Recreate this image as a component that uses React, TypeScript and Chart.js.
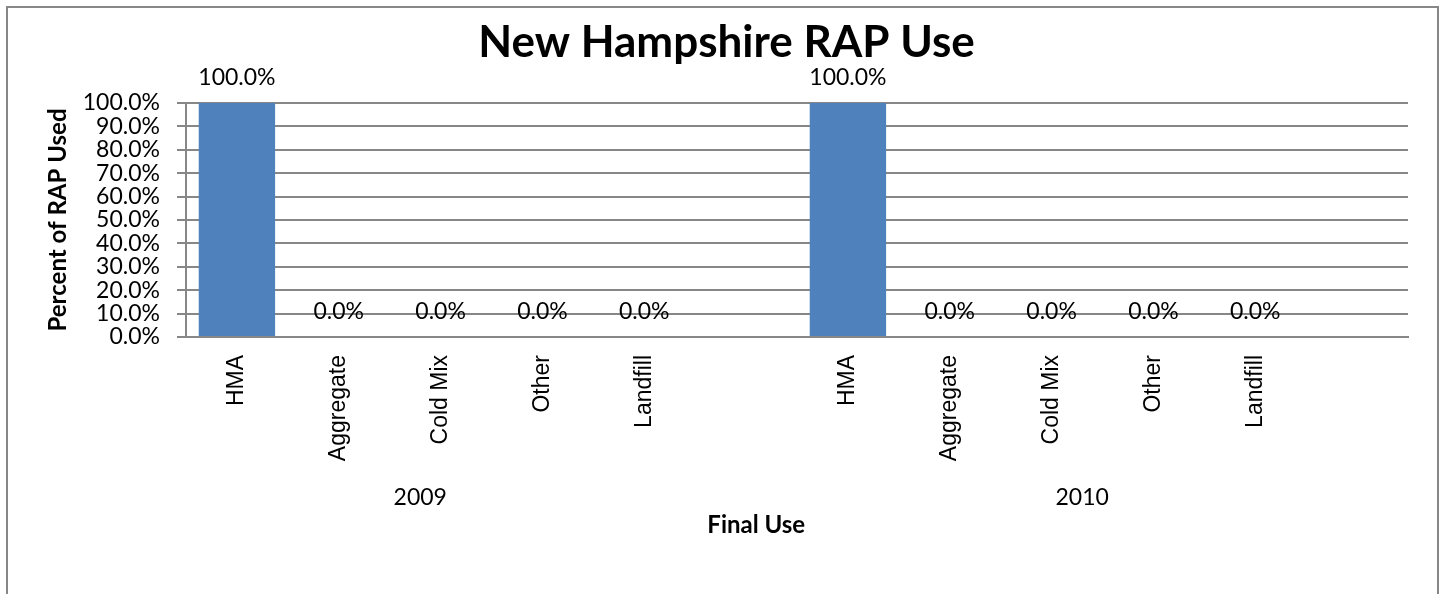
import React, { useEffect, useRef } from "react";
import { Chart, registerables } from "chart.js";

Chart.register(...registerables);

const finalUses = ["HMA", "Aggregate", "Cold Mix", "Other", "Landfill", ""];
const years = ["2009", "2010"];
const values2009 = [100, 0, 0, 0, 0, null];
const values2010 = [100, 0, 0, 0, 0, null];
const yTicks = [0, 10, 20, 30, 40, 50, 60, 70, 80, 90, 100];

const labels = [...finalUses, ...finalUses];
const values = [...values2009, ...values2010];

const chartTitle = "New Hampshire RAP Use";
const xTitle = "Final Use";
const yTitle = "Percent of RAP Used";

const BODY_FONT = "Lato, 'Open Sans', sans-serif";
const CAT_FONT = "'Liberation Sans', Arial, sans-serif";
const GRID = "#878787";

const extrasPlugin = {
  id: "extras",
  afterDatasetsDraw(chart: any) {
    const ctx = chart.ctx;
    const meta = chart.getDatasetMeta(0);
    ctx.save();
    ctx.fillStyle = "#000";
    ctx.font = `23px ${BODY_FONT}`;
    ctx.textAlign = "center";
    ctx.textBaseline = "middle";
    meta.data.forEach((bar: any, i: number) => {
      const v = values[i];
      if (v === null || v === undefined) return;
      ctx.fillText(v.toFixed(1) + "%", bar.x, bar.y - 25);
    });
    const xs = chart.scales.x;
    // group (year) labels
    const groupAnchor = [1.8, 8.3];
    years.forEach((y, gi) => {
      ctx.fillText(y, xs.getPixelForValue(groupAnchor[gi]), 498);
    });
    // axis title
    ctx.font = `bold 24px ${BODY_FONT}`;
    ctx.fillText(xTitle, xs.getPixelForValue(5.1), 525);
    // chart title
    ctx.font = `bold 44px ${BODY_FONT}`;
    ctx.fillText(chartTitle, chart.width / 2 + 4, 43);
    ctx.restore();
  },
};

export default function App() {
  const ref = useRef<HTMLCanvasElement | null>(null);
  useEffect(() => {
    if (!ref.current) return;
    const chart = new Chart(ref.current, {
      type: "bar",
      data: {
        labels,
        datasets: [
          {
            data: values as any,
            backgroundColor: "#4F81BD",
            borderWidth: 0,
            barPercentage: 0.75,
            categoryPercentage: 1,
          },
        ],
      },
      plugins: [extrasPlugin],
      options: {
        animation: false,
        responsive: false,
        maintainAspectRatio: false,
        layout: { padding: { left: 0, right: 37, top: 103, bottom: 0 } },
        plugins: {
          legend: { display: false },
          tooltip: { enabled: false },
          title: { display: false },
        },
        scales: {
          x: {
            grid: { display: false, drawTicks: false },
            border: { display: true, color: GRID, width: 2 },
            ticks: {
              color: "#000",
              font: { family: CAT_FONT, size: 23 },
              minRotation: 90,
              maxRotation: 90,
              autoSkip: false,
              padding: 18,
            },
            afterFit(scale: any) {
              scale.height = 257;
            },
          },
          y: {
            min: 0,
            max: 100,
            afterBuildTicks(scale: any) {
              scale.ticks = yTicks.map((v) => ({ value: v }));
            },
            grid: {
              color: GRID,
              lineWidth: 2,
              drawTicks: true,
              tickLength: 9,
            },
            border: { display: true, color: GRID, width: 2 },
            ticks: {
              color: "#000",
              font: { family: BODY_FONT, size: 23 },
              padding: 17,
              autoSkip: false,
              callback: (v: any) => Number(v).toFixed(1) + "%",
            },
            title: {
              display: true,
              text: yTitle,
              color: "#000",
              font: { family: BODY_FONT, size: 24, weight: "bold" },
              padding: { top: 44, bottom: 0 },
            },
            afterFit(scale: any) {
              scale.width = 186;
            },
          },
        },
      },
    });
    return () => chart.destroy();
  }, []);

  return (
    <div
      style={{
        position: "fixed",
        left: 0,
        top: 0,
        width: 1445,
        height: 594,
        overflow: "hidden",
        background: "#fff",
      }}
    >
      <div
        style={{
          position: "absolute",
          left: 6,
          top: 6,
          width: 1433,
          height: 700,
          border: "2px solid #878787",
          boxSizing: "border-box",
        }}
      />
      <canvas
        ref={ref}
        width={1445}
        height={594}
        style={{ position: "absolute", left: 0, top: 0, width: 1445, height: 594 }}
      />
    </div>
  );
}
